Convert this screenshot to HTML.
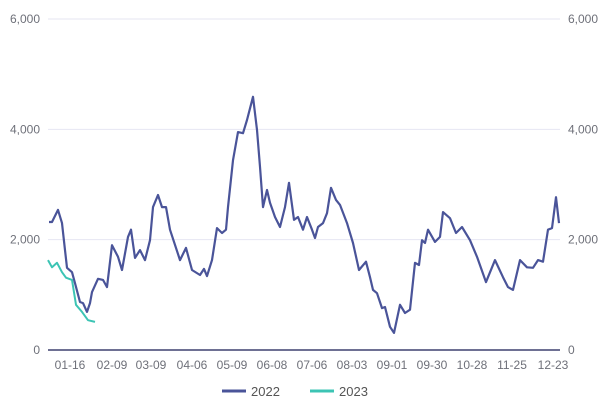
<!DOCTYPE html>
<html><head><meta charset="utf-8"><style>
body{margin:0;background:#fff;}
svg{display:block;font-family:"Liberation Sans",sans-serif;}
</style></head><body>
<svg id="chart" width="606" height="412" viewBox="0 0 606 412"></svg>
<script>
const idx2022=[0.25,1,2.5,3.5,4.25,4.75,6,6.75,8,8.75,9.75,10.5,11,12.5,13.75,14.75,16,17.5,18.5,20,20.75,21.75,23,24.25,25.5,26.25,27.5,28.5,29.5,30.5,33,34.5,36,38,39,39.75,41,42.25,43.5,44.5,45,46.25,47.5,48.75,49.75,51.25,52.25,53,53.75,54.75,55.5,56.75,58,59.25,60.25,61.5,62.5,63.75,64.75,66,66.75,67.5,68.75,69.75,70.75,72,73,74.75,76.25,77.75,79.5,80.5,81.25,82.25,83.5,84.25,85.5,86.5,88,89.25,90.5,91.75,92.75,93.5,94.25,95,96.75,98,98.75,100.5,102,103.5,105.5,107.25,109.5,111.75,113.75,115,116.25,118,119.75,121.25,122.5,123.75,125,126,127,127.75];
const val2022=[2320,2320,2540,2300,1810,1490,1410,1210,870,850,690,850,1050,1290,1270,1140,1900,1690,1450,2050,2180,1670,1810,1630,1990,2590,2810,2590,2590,2180,1630,1850,1450,1360,1470,1340,1630,2210,2120,2180,2590,3440,3950,3930,4170,4590,3990,3320,2590,2900,2670,2410,2230,2590,3030,2360,2410,2180,2410,2180,2030,2230,2300,2480,2940,2720,2630,2300,1940,1450,1600,1320,1090,1030,760,780,420,310,820,670,730,1580,1540,1990,1940,2180,1960,2050,2500,2390,2120,2230,1990,1690,1230,1630,1320,1140,1090,1630,1500,1490,1630,1600,2180,2210,2770,2300];
const idx2023=[0,1,2.25,3.5,4.5,6,7,8.5,10,11.75];
const val2023=[1630,1500,1580,1410,1310,1270,820,690,540,510];
const tickLabels=["01-16","02-09","03-09","04-06","05-09","06-08","07-06","08-03","09-01","09-30","10-28","11-25","12-23"];
const tickIdx=[5.5,16,25.75,36,46,56,66,76,86,96,106,116,126.25];
const yTicks=[0,2000,4000,6000];
const NS="http://www.w3.org/2000/svg";
const svg=document.getElementById('chart');
const X0=48,X1=560,Y0=350,Y1=19,IMAX=128,VMAX=6000;
function xs(i){return X0+i*(X1-X0)/IMAX;}
function ys(v){return Y0-v*(Y0-Y1)/VMAX;}
function mk(t,a){const e=document.createElementNS(NS,t);for(const k in a)e.setAttribute(k,a[k]);svg.appendChild(e);return e;}
yTicks.forEach(v=>{
  if(v>0){const g=mk('line',{x1:X0,x2:X1,y1:ys(v),y2:ys(v),stroke:'#e6e6f2','stroke-width':1});
  
  }
  const l=mk('text',{x:40,y:ys(v)+4,'text-anchor':'end','font-size':12,fill:'#6e7079'});l.textContent=v.toLocaleString('en-US');
  
  
  const r=mk('text',{x:568,y:ys(v)+4,'text-anchor':'start','font-size':12,fill:'#6e7079'});r.textContent=v.toLocaleString('en-US');
  
  
});
const ax=mk('line',{x1:X0,x2:X1,y1:Y0,y2:Y0,stroke:'#6e7093','stroke-width':2});


tickLabels.forEach((t,k)=>{
  const e=mk('text',{x:xs(tickIdx[k]),y:369,'text-anchor':'middle','font-size':12,fill:'#6e7079'});e.textContent=t;
  
  
});
function path(ix,vs){return ix.map((i,k)=>(k?'L':'M')+xs(i).toFixed(1)+','+ys(vs[k]).toFixed(1)).join(' ');}
const p2=mk('path',{d:path(idx2022,val2022),fill:'none',stroke:'#4a5499','stroke-width':2.2,'stroke-linejoin':'round'});


const p3=mk('path',{d:path(idx2023,val2023),fill:'none',stroke:'#3cc4b4','stroke-width':2,'stroke-linejoin':'round'});


[[222,'#4a5499','2022'],[310,'#3cc4b4','2023']].forEach(([x,c,t])=>{
  const s=mk('line',{x1:x,x2:x+24,y1:391,y2:391,stroke:c,'stroke-width':3});
  
  
  const e=mk('text',{x:x+29,y:396,'font-size':13,fill:'#555'});e.textContent=t;
  
  
});
</script>
</body></html>
